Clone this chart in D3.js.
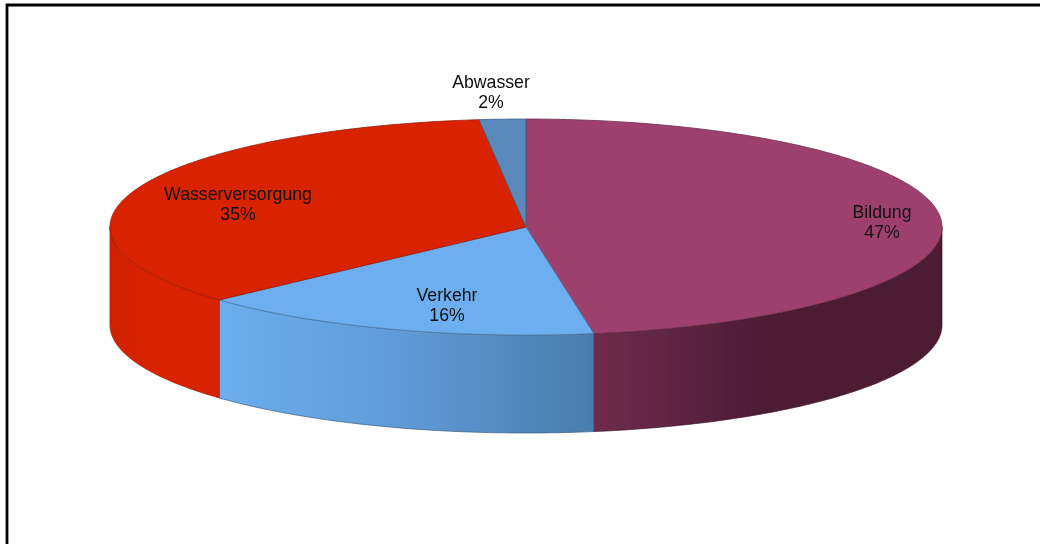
<!DOCTYPE html>
<html>
<head>
<meta charset="utf-8">
<style>
  html, body { margin: 0; padding: 0; background: #fff; }
  svg { display: block; }
  text { font-family: "Liberation Sans", Arial, sans-serif; font-size: 17.7px; fill: #111; text-anchor: middle; }
  .top, .side { stroke-linejoin: round; }
</style>
<script src="https://d3js.org/d3.v7.min.js"></script>
</head>
<body>
<script>
  // shares, labels show them rounded
  var categories = ["Bildung", "Verkehr", "Wasserversorgung", "Abwasser"];
  var shares = [47.4, 15.8, 35.0, 1.8];
  var labels = ["47%", "16%", "35%", "2%"];
  var topColors = ["#9e416d", "#6caeef", "#d92300", "#5a8abb"];
  // side wall shading, left to right
  var sideStops = [
    ["#6f2c4c", "#4c1b33", "#4c1b33"],
    ["#6caeef", "#5f9ad6", "#4a7cab"],
    ["#d02200", "#da2400", "#d82300"],
    ["#5a8abb", "#5a8abb", "#5a8abb"]
  ];
  var labelX = [882, 447, 238, 491];
  var labelY = [218, 301, 200, 88];

  var width = 1040, height = 544;
  var cx = 526, cy = 227, rx = 416, ry = 108, depth = 98;

  var svg = d3.select("body").append("svg")
      .attr("width", width)
      .attr("height", height);

  var defs = svg.append("defs");
  defs.append("filter").attr("id", "soft")
      .append("feGaussianBlur").attr("stdDeviation", 0.45);

  var soft = svg.append("g").attr("filter", "url(#soft)");

  // frame: only top and left are drawn
  soft.append("path")
      .attr("d", d3.line()([[7, height], [7, 5], [width, 5]]))
      .attr("fill", "none")
      .attr("stroke", "#000")
      .attr("stroke-width", 2.8);

  var pie = d3.pie().sort(null).value(function(d) { return d; });
  var slices = pie(shares);

  // pie angle (clockwise from top) to a point on the flattened ellipse
  var point = function(a, dy) {
    return [cx + rx * Math.sin(a), cy - ry * Math.cos(a) + (dy || 0)];
  };
  var rimPoints = function(a0, a1, dy) {
    var n = Math.max(2, Math.ceil((a1 - a0) * 60));
    return d3.range(n + 1).map(function(i) {
      return point(a0 + (a1 - a0) * i / n, dy);
    });
  };
  var line = d3.line();

  // side walls, only the part of the rim facing the viewer
  var front = [Math.PI / 2, Math.PI * 1.5];
  slices.forEach(function(s, i) {
    var a0 = Math.max(s.startAngle, front[0]), a1 = Math.min(s.endAngle, front[1]);
    if (a1 <= a0) return;
    var up = rimPoints(a0, a1, 0);
    var down = rimPoints(a0, a1, depth).reverse();
    var xs = d3.extent(up, function(p) { return p[0]; });
    var grad = defs.append("linearGradient")
        .attr("id", "side" + i)
        .attr("gradientUnits", "userSpaceOnUse")
        .attr("x1", xs[0]).attr("x2", xs[1])
        .attr("y1", 0).attr("y2", 0);
    sideStops[i].forEach(function(c, j) {
      grad.append("stop").attr("offset", j / 2).attr("stop-color", c);
    });
    soft.append("path")
        .attr("class", "side")
        .attr("d", line(up.concat(down)) + "Z")
        .attr("fill", "url(#side" + i + ")")
        .attr("stroke", d3.color(sideStops[i][2]).darker(0.8))
        .attr("stroke-width", 0.7);
  });

  // top faces
  slices.forEach(function(s, i) {
    var pts = [[cx, cy]].concat(rimPoints(s.startAngle, s.endAngle, 0));
    soft.append("path")
        .attr("class", "top")
        .attr("d", line(pts) + "Z")
        .attr("fill", topColors[i])
        .attr("stroke", d3.color(topColors[i]).darker(1))
        .attr("stroke-width", 0.8);
  });

  // labels
  categories.forEach(function(c, i) {
    var t = soft.append("text").attr("x", labelX[i]).attr("y", labelY[i]);
    t.append("tspan").attr("x", labelX[i]).text(c);
    t.append("tspan").attr("x", labelX[i]).attr("dy", 20).text(labels[i]);
  });
</script>
</body>
</html>
